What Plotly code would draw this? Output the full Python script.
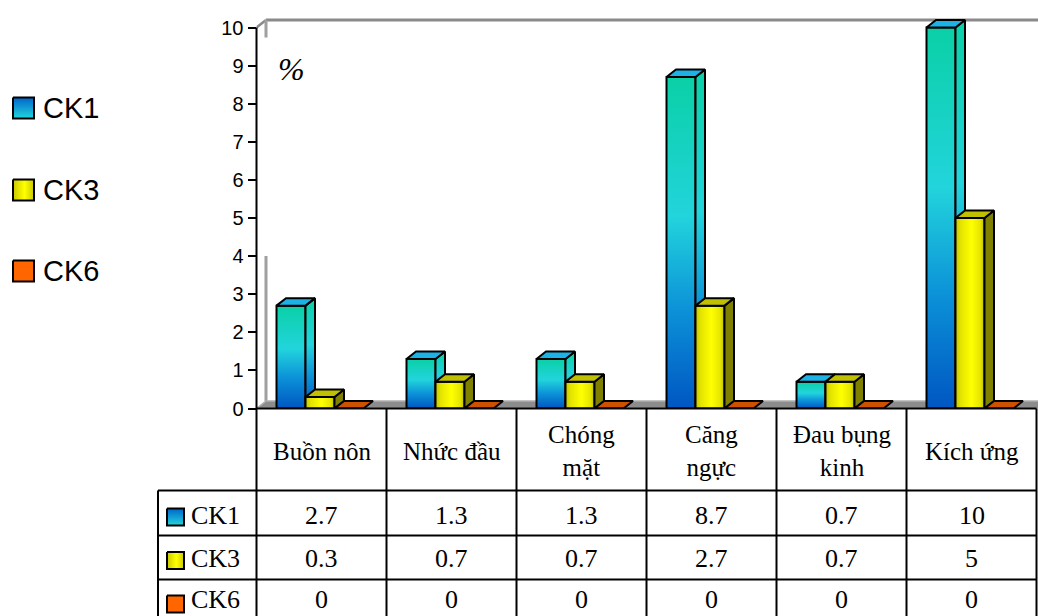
import plotly.graph_objects as go

# ---- data ----
categories = ["Buồn nôn", "Nhức đầu", "Chóng<br>mặt", "Căng<br>ngực", "Đau bụng<br>kinh", "Kích ứng"]
series_names = ["CK1", "CK3", "CK6"]
ck1 = [2.7, 1.3, 1.3, 8.7, 0.7, 10]
ck3 = [0.3, 0.7, 0.7, 2.7, 0.7, 5]
ck6 = [0, 0, 0, 0, 0, 0]
y_ticks = [0, 1, 2, 3, 4, 5, 6, 7, 8, 9, 10]

# ---- page geometry (pixels) ----
W, H = 1038, 616
AX_LEFT = 256.5          # left edge of the value axis / table body
COL_W = 130              # width of one category column
Y0_PX = 408.5            # pixel row of value 0
PX_PER_UNIT = 38.1       # pixels per 1 %
BAR_W_PX = 29
GROUP_OFF_PX = 20
DEPTH_X_PX = 9.5
DEPTH_Y_PX = 7.5
TABLE_LEFT = 158
ROW_LINES = [490.5, 535.5, 579.5]
HEADER_Y = 451
ROW_TEXT_Y = [515, 558, None]   # last row is bottom-anchored to the page edge

# same geometry in axis units
BW = BAR_W_PX / COL_W
GOFF = GROUP_OFF_PX / COL_W
DX = DEPTH_X_PX / COL_W
DY = DEPTH_Y_PX / PX_PER_UNIT
X_MAX = -0.5 + (W - AX_LEFT) / COL_W
Y_MAX = Y0_PX / PX_PER_UNIT
Y_TOP = max(y_ticks)

SERIF = "Liberation Serif"
SANS = "Liberation Sans"

# face styles per series: (front, side, top)
BLUE_V = [[0, "#0056C2"], [0.3, "#0C92D8"], [0.58, "#22D4DC"], [1, "#0AD0A6"]]
YELLOW_H = [[0, "#C4C400"], [0.18, "#E4E400"], [0.55, "#FFFF00"], [0.85, "#E6E600"], [1, "#BEBE00"]]
styles = [
    (dict(type="vertical", colorscale=BLUE_V), dict(type="vertical", colorscale=BLUE_V), "#1CB2E6"),
    (dict(type="horizontal", colorscale=YELLOW_H), "#808000", "#C0C000"),
    ("#FF6600", "#A03C00", "#CC5200"),
]

fig = go.Figure()


def poly(xs, ys, fill, line_color="black", line_width=2, xaxis="x", yaxis="y"):
    kw = dict(
        x=list(xs) + [xs[0]], y=list(ys) + [ys[0]],
        mode="lines", fill="toself",
        line=dict(color=line_color, width=line_width),
        hoverinfo="skip", showlegend=False, xaxis=xaxis, yaxis=yaxis,
    )
    if isinstance(fill, dict):
        kw["fillgradient"] = fill
        kw["fillcolor"] = "rgba(0,0,0,0)"
    else:
        kw["fillcolor"] = fill
    fig.add_trace(go.Scatter(**kw))


def line(xs, ys, color, width):
    fig.add_trace(go.Scatter(x=xs, y=ys, mode="lines", line=dict(color=color, width=width),
                             hoverinfo="skip", showlegend=False, xaxis="x", yaxis="y"))


# back wall edges
line([-0.5 + DX, X_MAX], [Y_TOP + DY, Y_TOP + DY], "#8A8A8A", 3)
line([-0.5, -0.5 + DX], [Y_TOP, Y_TOP + DY], "#8A8A8A", 2.5)
line([-0.5 + DX, -0.5 + DX], [Y_TOP + DY, 9.74], "#A0A0A0", 3)
line([-0.5 + DX, -0.5 + DX], [4, DY], "#A0A0A0", 3)

# floor
poly([-0.5, X_MAX + DX, X_MAX + DX, -0.5 + DX], [0, 0, DY, DY], "#8C8C8C",
     line_color="#B0B0B0", line_width=1.5)

# 3-D columns
for i in range(len(categories)):
    for s, vals in enumerate([ck1, ck3, ck6]):
        v = vals[i]
        xl = i - 0.5 + GOFF + s * BW
        xr = xl + BW
        front, side, top = styles[s]
        if v > 0:
            poly([xl, xr, xr, xl], [0, 0, v, v], front)
            poly([xr, xr + DX, xr + DX, xr], [0, DY, v + DY, v], side)
        poly([xl, xr, xr + DX, xl + DX], [v, v, v + DY, v + DY], top)

# legend keys (page pixel coordinates)
legend_y = [108, 190, 271]
table_key_y = [517, 560.5, 604]
key_fills = [
    dict(type="vertical", colorscale=[[0, "#22D6DC"], [1, "#0064CC"]]),
    dict(type="horizontal", colorscale=[[0, "#C8C800"], [0.55, "#FFFF00"], [1, "#C8C800"]]),
    "#FF6600",
]
for k, name in enumerate(series_names):
    cy = legend_y[k]
    poly([13, 34, 34, 13], [cy - 10.5, cy - 10.5, cy + 10.5, cy + 10.5], key_fills[k],
         line_width=2, xaxis="x2", yaxis="y2")
    cy = table_key_y[k]
    poly([167, 184, 184, 167], [cy - 8.5, cy - 8.5, cy + 8.5, cy + 8.5], key_fills[k],
         line_width=2, xaxis="x2", yaxis="y2")


def row_pos(r):
    """Vertical placement of a table-row text (last row sits on the page edge)."""
    if ROW_TEXT_Y[r] is None:
        return dict(y=H, yanchor="bottom")
    return dict(y=ROW_TEXT_Y[r], yanchor="middle")


annotations = []
for k, name in enumerate(series_names):
    annotations.append(dict(x=41, y=legend_y[k], xref="x2", yref="y2", text=name, showarrow=False,
                            xanchor="left", yanchor="middle", font=dict(family=SANS, size=29, color="black")))
    annotations.append(dict(x=189, xref="x2", yref="y2", text=name, showarrow=False,
                            xanchor="left", font=dict(family=SERIF, size=26, color="black"),
                            **row_pos(k)))

# table header and values
for i, cat in enumerate(categories):
    annotations.append(dict(x=i, y=HEADER_Y, xref="x", yref="y2", text=cat, showarrow=False,
                            xanchor="center", yanchor="middle",
                            font=dict(family=SERIF, size=25, color="black")))
    for r, vals in enumerate([ck1, ck3, ck6]):
        annotations.append(dict(x=i, xref="x", yref="y2", text=f"{vals[i]:g}",
                                showarrow=False, xanchor="center",
                                font=dict(family=SERIF, size=26, color="black"),
                                **row_pos(r)))

# unit label
annotations.append(dict(x=291, y=69, xref="x2", yref="y2", text="%", showarrow=False,
                        xanchor="center", yanchor="middle",
                        font=dict(family=SERIF, size=32, color="black", style="italic")))

# axis line and table grid
TABLE_RIGHT = AX_LEFT + COL_W * len(categories)
shapes = []
black = dict(color="black", width=2)
shapes.append(dict(type="line", xref="x2", yref="y2", x0=AX_LEFT, x1=AX_LEFT,
                   y0=Y0_PX - Y_TOP * PX_PER_UNIT, y1=H, line=black))
shapes.append(dict(type="line", xref="x2", yref="y2", x0=AX_LEFT, x1=TABLE_RIGHT,
                   y0=Y0_PX, y1=Y0_PX, line=black))
for k in range(1, len(categories) + 1):
    xk = AX_LEFT + COL_W * k
    shapes.append(dict(type="line", xref="x2", yref="y2", x0=xk, x1=xk, y0=Y0_PX, y1=H, line=black))
for ry in ROW_LINES:
    shapes.append(dict(type="line", xref="x2", yref="y2", x0=TABLE_LEFT, x1=TABLE_RIGHT,
                       y0=ry, y1=ry, line=black))
shapes.append(dict(type="line", xref="x2", yref="y2", x0=TABLE_LEFT, x1=TABLE_LEFT,
                   y0=ROW_LINES[0], y1=H, line=black))

fig.update_layout(
    width=W, height=H,
    margin=dict(l=0, r=0, t=0, b=0),
    paper_bgcolor="white",
    plot_bgcolor="rgba(0,0,0,0)",
    showlegend=False,
    xaxis=dict(domain=[AX_LEFT / W, 1], range=[-0.5, X_MAX], visible=False, fixedrange=True),
    yaxis=dict(domain=[(H - Y0_PX) / H, 1], range=[0, Y_MAX], tickvals=y_ticks,
               ticks="outside", ticklen=8, tickwidth=2, tickcolor="black",
               showgrid=False, zeroline=False, showline=False, automargin=False,
               tickfont=dict(family=SANS, size=20, color="black"), fixedrange=True),
    xaxis2=dict(domain=[0, 1], range=[0, W], visible=False, anchor="y2", fixedrange=True),
    yaxis2=dict(domain=[0, 1], range=[H, 0], visible=False, anchor="x2", fixedrange=True),
    annotations=annotations,
    shapes=shapes,
)

fig.write_html("out.html")
